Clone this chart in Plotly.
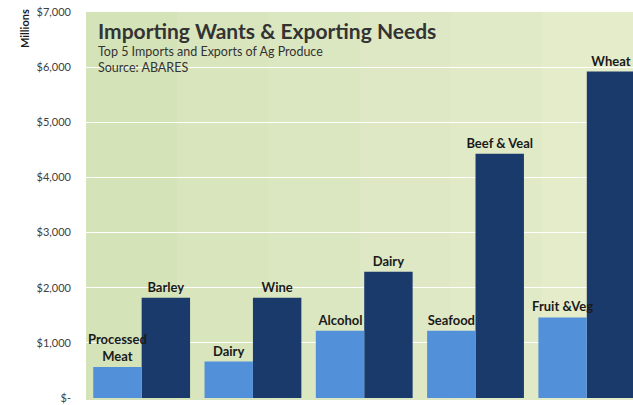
import plotly.graph_objects as go

groups = ["G1", "G2", "G3", "G4", "G5"]
import_names = ["Processed<br>Meat", "Dairy", "Alcohol", "Seafood", "Fruit &Veg"]
import_values = [560, 660, 1220, 1220, 1460]
export_names = ["Barley", "Wine", "Dairy", "Beef & Veal", "Wheat"]
export_values = [1820, 1820, 2290, 4430, 5920]
tick_values = [0, 1000, 2000, 3000, 4000, 5000, 6000, 7000]
tick_labels = ["$-", "$1,000", "$2,000", "$3,000", "$4,000", "$5,000", "$6,000", "$7,000"]

FONT = "Lato"
label_font = dict(family=FONT, size=13, color="#1a1a1a", weight="bold")
BAR_W = 0.435

fig = go.Figure()
# exports drawn first so import labels sit on top of neighbouring bars
fig.add_trace(go.Bar(
    x=groups, y=export_values, name="Exports",
    offset=0, width=BAR_W,
    marker=dict(color="#1a3a6c", line=dict(width=0)),
    text=export_names, textposition="outside", constraintext="none",
    textfont=label_font, cliponaxis=False, hoverinfo="skip",
))
fig.add_trace(go.Bar(
    x=groups, y=import_values, name="Imports",
    offset=-BAR_W, width=BAR_W,
    marker=dict(color="#5290da", line=dict(width=0)),
    text=import_names, textposition="outside", constraintext="none",
    textfont=label_font, cliponaxis=False, hoverinfo="skip",
))

# subtle horizontal gradient background
bg_cols = ["#d5e3b9", "#d8e5bd", "#dbe7c1", "#dee8c4", "#e1eac7", "#e4ecca"]
n = len(bg_cols)
shapes = []
for i, c in enumerate(bg_cols):
    shapes.append(dict(type="rect", xref="paper", yref="paper",
                       x0=i / n, x1=(i + 1) / n + 0.002, y0=-0.005, y1=1,
                       fillcolor=c, line=dict(width=0), layer="below"))

fig.update_layout(
    width=633, height=405,
    margin=dict(l=86, r=0, t=12, b=7),
    paper_bgcolor="white",
    plot_bgcolor="rgba(0,0,0,0)",
    barmode="overlay",
    showlegend=False,
    shapes=shapes,
    font=dict(family=FONT, color="#404040"),
    xaxis=dict(range=[-0.5, 4.415], showticklabels=False, showgrid=False,
               zeroline=False, showline=False, fixedrange=True),
    yaxis=dict(range=[0, 7000], tickvals=tick_values, ticktext=tick_labels,
               showgrid=True, gridcolor="white", gridwidth=1.2,
               zeroline=False, showline=False, fixedrange=True,
               tickfont=dict(family=FONT, size=11, color="#404040"),
               ticklabelstandoff=14),
    annotations=[
        dict(text="<b>Importing Wants & Exporting Needs</b>", xref="paper", yref="paper",
             x=0.018, y=0.951, xanchor="left", yanchor="middle", showarrow=False,
             font=dict(family=FONT, size=21, color="#333333")),
        dict(text="Top 5 Imports and Exports of Ag Produce", xref="paper", yref="paper",
             x=0.018, y=0.898, xanchor="left", yanchor="middle", showarrow=False,
             font=dict(family=FONT, size=12.5, color="#333333")),
        dict(text="Source: ABARES", xref="paper", yref="paper",
             x=0.018, y=0.857, xanchor="left", yanchor="middle", showarrow=False,
             font=dict(family=FONT, size=12.5, color="#333333")),
        dict(text="<b>Millions</b>", xref="paper", yref="paper",
             x=-0.1115, y=0.956, xanchor="center", yanchor="middle", showarrow=False,
             textangle=-90, font=dict(family=FONT, size=11, color="#1a1a1a")),
    ],
)

fig.write_html("out.html", config={"displayModeBar": False},
               post_script="document.body.style.margin='0px';")
